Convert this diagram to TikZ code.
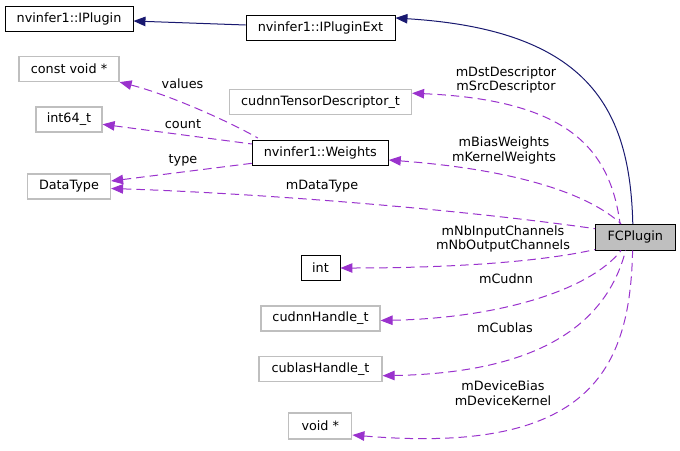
\documentclass[tikz,border=0pt]{standalone}
\usepackage{fontspec}
\setmainfont{DejaVu Sans}
\usetikzlibrary{arrows.meta,calc}
\definecolor{edgep}{HTML}{9A32CD}
\definecolor{edgen}{HTML}{191970}
\definecolor{greyb}{HTML}{BFBFBF}
\tikzset{
  box/.style={draw=black, line width=0.9pt, minimum height=25pt, inner sep=0pt, font=\fontsize{12.8}{14.6}\selectfont},
  gbox/.style={box, draw=greyb, line width=1.2pt},
  fcbox/.style={box, fill=greyb},
  mem/.style={draw=edgep, line width=1pt, dash pattern=on 8.5pt off 5pt, {Triangle[length=12pt,width=9.5pt]}-},
  inh/.style={draw=edgen, line width=1pt, {Triangle[length=12pt,width=9.5pt]}-},
  lab/.style={font=\fontsize{12.8}{14.6}\selectfont, align=center, inner sep=0pt}
}
\begin{document}
\begin{tikzpicture}[x=1pt,y=-1pt]
\useasboundingbox (0,0) rectangle (680,450);
% nodes
\node[box, minimum width=128pt] (plug) at (69,18.5) {nvinfer1::IPlugin};
\node[box, minimum width=149pt] (ext) at (320.5,27.5) {nvinfer1::IPluginExt};
\node[gbox, minimum width=100pt] (cvoid) at (69,69) {const void *};
\node[gbox, minimum width=66pt] (i64) at (69,119.5) {int64\_t};
\node[gbox, minimum width=83pt] (dtype) at (69,186.5) {DataType};
\node[gbox, minimum width=182pt] (tensor) at (320.5,102.2) {cudnnTensorDescriptor\_t};
\node[box, minimum width=136pt] (weights) at (320.3,153) {nvinfer1::Weights};
\node[fcbox, minimum width=79.5pt, minimum height=25.7pt] (fc) at (635.3,237.2) {FCPlugin};
\node[box, minimum width=39pt, minimum height=25.7pt] (int) at (320.5,268) {int};
\node[gbox, minimum width=119pt] (cudnnh) at (320.5,318.5) {cudnnHandle\_t};
\node[gbox, minimum width=123pt] (cublash) at (320.5,369.2) {cublasHandle\_t};
\node[gbox, minimum width=63pt, minimum height=26pt] (voidp) at (320.3,426) {void *};
% inheritance
\draw[inh] ($(plug.east)+(0,2.5)$) -- ($(ext.west)+(0,-2.5)$);
\draw[inh] ($(ext.east)+(0,-9.5)$) .. controls (590,30) and (630,110) .. ($(fc.north)+(-2.5,0)$);
% members of Weights
\draw[mem] (cvoid.south east) .. controls (170,95) and (230,122) .. ($(weights.north west)+(6,-2)$);
\draw[mem] ($(i64.east)+(0,4.8)$) -- ($(weights.west)+(0,-9)$);
\draw[mem] ($(dtype.east)+(0,-5.5)$) -- ($(weights.west)+(0,10.3)$);
% members of FCPlugin
\draw[mem] ($(dtype.east)+(0,2)$) .. controls (250,193) and (450,208) .. ($(fc.west)+(0,-8.5)$);
\draw[mem] ($(tensor.east)+(0,-9)$) .. controls (570,100) and (610,150) .. ($(fc.north west)+(25,0)$);
\draw[mem] ($(weights.east)+(0,7)$) .. controls (520,170) and (590,195) .. ($(fc.north west)+(26,0)$);
\draw[mem] (int.east) .. controls (450,268) and (540,262) .. ($(fc.south west)+(0,-1)$);
\draw[mem] ($(cudnnh.east)+(0,2)$) .. controls (500,318) and (590,290) .. ($(fc.south west)+(26,0)$);
\draw[mem] ($(cublash.east)+(0,6.5)$) .. controls (530,373) and (605,330) .. ($(fc.south west)+(30.5,0)$);
\draw[mem] ($(voidp.east)+(0,9)$) .. controls (590,455) and (630,370) .. ($(fc.south west)+(37.5,0)$);
% labels
\node[lab] (lvalues) at (182.5,84) {values};
\node[lab] (lcount) at (183,124) {count};
\node[lab] (ltype) at (183,160.5) {type};
\node[lab] (ldt) at (322,186) {mDataType};
\node[lab] (ldesc) at (506,80) {mDstDescriptor\\mSrcDescriptor};
\node[lab] (lw) at (504,150.5) {mBiasWeights\\mKernelWeights};
\node[lab] (lnb) at (503,239) {mNbInputChannels\\mNbOutputChannels};
\node[lab] (lcudnn) at (506,278.5) {mCudnn};
\node[lab] (lcublas) at (505,328) {mCublas};
\node[lab] (ldev) at (503,393.5) {mDeviceBias\\mDeviceKernel};
\end{tikzpicture}
\end{document}
